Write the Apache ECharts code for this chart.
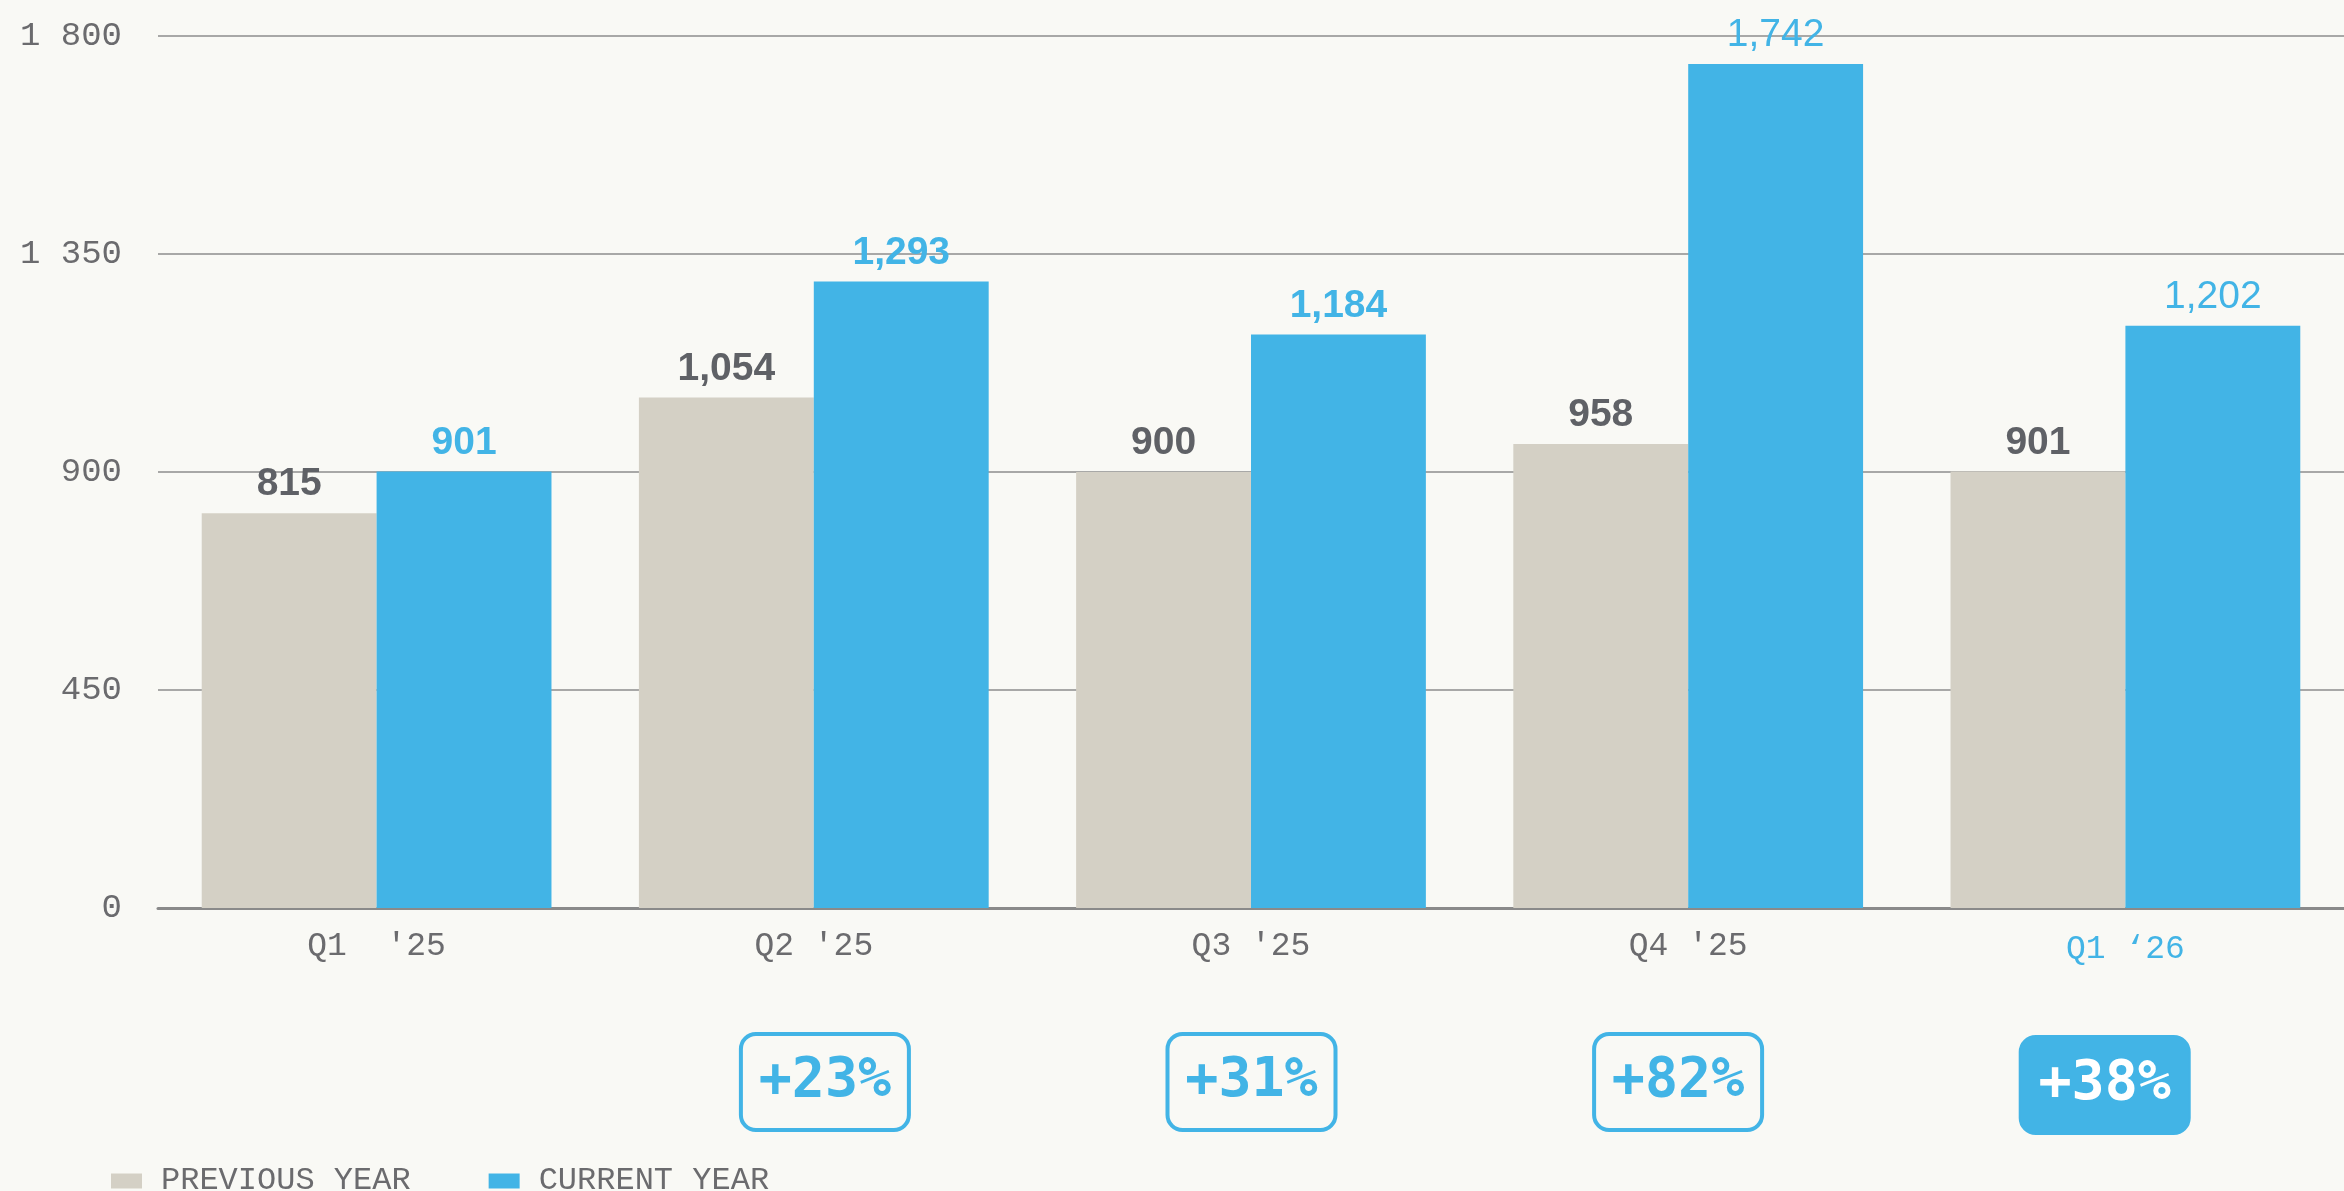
<!DOCTYPE html>
<html>
<head>
<meta charset="utf-8">
<script src="https://cdn.jsdelivr.net/npm/echarts@6/dist/echarts.min.js"></script>
<style>
  html, body { margin: 0; padding: 0; background: #f9f9f5; }
  #chart { width: 2344px; height: 1191px; }
</style>
</head>
<body>
<div id="chart"></div>
<script>
// quarters and yearly values
var quarters = ["Q1  '25", "Q2 '25", "Q3 '25", "Q4 '25", "Q1 \u201826"];
var previousYear = [815, 1054, 900, 958, 901];
var currentYear = [901, 1293, 1184, 1742, 1202];
var growthPct = [null, 23, 31, 82, 38];
var yTicks = [0, 450, 900, 1350, 1800];

var BLUE = '#42b4e6';
var BEIGE = '#d4d0c5';
var GREY_TXT = '#6b6b6e';
var MONO = "'Courier New', 'Nimbus Mono PS', 'FreeMono', 'Liberation Mono', monospace";
var NARROW = "'Liberation Sans Narrow', 'Arial Narrow', 'Liberation Sans', Arial, sans-serif";

var chart = echarts.init(document.getElementById('chart'));

function fmtComma(v) {
  return v.toLocaleString('en-US');
}

var lastIdx = quarters.length - 1;

var xData = quarters.map(function (q, i) {
  if (i === lastIdx) {
    return { value: q, textStyle: { color: BLUE, padding: [3, 0, 0, 0] } };
  }
  return q;
});

var prevData = previousYear.map(function (v) { return v; });

var currData = currentYear.map(function (v, i) {
  // the last two labels are drawn in regular weight
  return {
    value: v,
    label: { fontWeight: i < 3 ? 'bold' : 'normal' }
  };
});

var badgeData = growthPct.map(function (g, i) {
  if (g == null) return null;
  var item = { value: [i, 0.5] };
  if (i === lastIdx) {
    item.label = { backgroundColor: BLUE, borderColor: BLUE, color: '#ffffff', offset: [0, 3] };
  }
  return item;
});

var option = {
  backgroundColor: '#f9f9f5',
  animation: false,
  grid: [
    { left: 158, top: 36, width: 2200, height: 872 },
    { left: 185, top: 1032, width: 2133, height: 100 }
  ],
  legend: {
    left: 106,
    top: 1160,
    itemWidth: 31,
    itemHeight: 15,
    itemGap: 78,
    icon: 'rect',
    data: ['PREVIOUS YEAR', 'CURRENT YEAR'],
    textStyle: {
      fontFamily: MONO,
      fontSize: 32,
      color: GREY_TXT,
      padding: [0, 0, 0, 14]
    }
  },
  xAxis: [
    {
      type: 'category',
      gridIndex: 0,
      data: xData,
      axisLine: { lineStyle: { color: '#8a8a8a', width: 3 } },
      axisTick: { show: false },
      axisLabel: {
        margin: 22,
        fontFamily: MONO,
        fontSize: 33,
        color: GREY_TXT
      }
    },
    {
      type: 'category',
      gridIndex: 1,
      data: quarters,
      show: false
    }
  ],
  yAxis: [
    {
      type: 'value',
      gridIndex: 0,
      min: yTicks[0],
      max: yTicks[yTicks.length - 1],
      interval: 450,
      axisLine: { show: false },
      axisTick: { show: false },
      splitLine: { lineStyle: { color: '#8d8d8d', width: 1.5 } },
      axisLabel: {
        margin: 36,
        fontFamily: "'Liberation Mono', 'DejaVu Sans Mono', monospace",
        fontSize: 34,
        color: GREY_TXT,
        formatter: function (v) {
          return String(v).replace(/\B(?=(\d{3})+(?!\d))/g, ' ');
        }
      }
    },
    {
      type: 'value',
      gridIndex: 1,
      min: 0,
      max: 1,
      show: false
    }
  ],
  series: [
    {
      name: 'PREVIOUS YEAR',
      type: 'bar',
      xAxisIndex: 0,
      yAxisIndex: 0,
      data: prevData,
      barGap: '0%',
      barCategoryGap: '20%',
      itemStyle: { color: BEIGE },
      label: {
        show: true,
        position: 'top',
        distance: 9,
        fontFamily: NARROW,
        fontSize: 39,
        fontWeight: 'bold',
        color: '#5f6166',
        formatter: function (p) { return fmtComma(p.value); }
      }
    },
    {
      name: 'CURRENT YEAR',
      type: 'bar',
      xAxisIndex: 0,
      yAxisIndex: 0,
      data: currData,
      barGap: '0%',
      barCategoryGap: '20%',
      itemStyle: { color: BLUE },
      label: {
        show: true,
        position: 'top',
        distance: 9,
        fontFamily: NARROW,
        fontSize: 39,
        color: BLUE,
        formatter: function (p) { return fmtComma(p.value); }
      }
    },
    {
      name: 'growth',
      type: 'scatter',
      xAxisIndex: 1,
      yAxisIndex: 1,
      data: badgeData,
      symbolSize: 1,
      itemStyle: { color: 'rgba(0,0,0,0)', opacity: 1 },
      silent: true,
      label: {
        show: true,
        position: 'inside',
        opacity: 1,
        formatter: function (p) { return '+' + growthPct[p.dataIndex] + '%'; },
        fontFamily: "'DejaVu Sans Mono', monospace",
        fontWeight: 'bold',
        fontSize: 55,
        color: BLUE,
        backgroundColor: 'transparent',
        borderColor: BLUE,
        borderWidth: 2,
        borderRadius: 15,
        width: 168,
        height: 96,
        lineHeight: 96,
        align: 'center',
        verticalAlign: 'middle'
      }
    }
  ]
};

chart.setOption(option);
</script>
</body>
</html>
